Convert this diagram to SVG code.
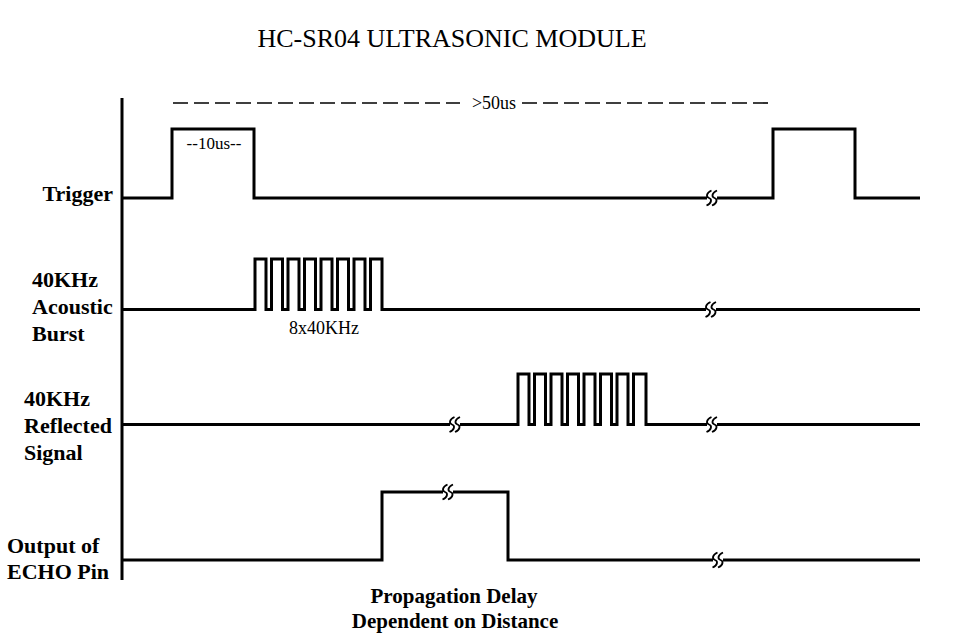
<svg xmlns="http://www.w3.org/2000/svg" width="962" height="642" viewBox="0 0 962 642">
<style>
.sig{fill:none;stroke:#000;stroke-width:3;stroke-linejoin:miter;stroke-linecap:butt}
.brk{fill:none;stroke:#000;stroke-width:1.8}
.dash{fill:none;stroke:#000;stroke-width:1.6;stroke-dasharray:15 6}
.lbl{font-family:"Liberation Serif","Times New Roman",serif;font-weight:bold;font-size:22px;fill:#000}
.note{font-family:"Liberation Serif","Times New Roman",serif;font-size:18px;fill:#000}
.title{font-family:"Liberation Serif","Times New Roman",serif;font-size:26px;fill:#000}
</style>
<defs>
<path id="sq" d="M2.5,-7.5 C-3,-5 -3,-1 0,0 C3,1 3,5 -2.5,7.5"/>
</defs>
<rect width="962" height="642" fill="#fff"/>
<text class="title" x="452" y="47" text-anchor="middle">HC-SR04 ULTRASONIC MODULE</text>

<g id="axis">
<line class="sig" x1="122" y1="98" x2="122" y2="580"/>
</g>

<g id="trigger">
<text class="lbl" x="113" y="201" text-anchor="end">Trigger</text>
<text class="note" x="214" y="149" text-anchor="middle" style="font-size:17px">--10us--</text>
</g>
<g id="acoustic">
<text class="lbl" x="32" y="287">40KHz</text>
<text class="lbl" x="32" y="314">Acoustic</text>
<text class="lbl" x="32" y="341">Burst</text>
<text class="note" x="324" y="334" text-anchor="middle">8x40KHz</text>
</g>
<g id="reflected">
<text class="lbl" x="24" y="406">40KHz</text>
<text class="lbl" x="24" y="433">Reflected</text>
<text class="lbl" x="24" y="460">Signal</text>
</g>
<g id="echo">
<text class="lbl" x="7" y="553">Output of</text>
<text class="lbl" x="7" y="579">ECHO Pin</text>
</g>
<g id="delay">
<text class="lbl" x="454" y="603" text-anchor="middle" style="font-size:21px">Propagation Delay</text>
<text class="lbl" x="455" y="628" text-anchor="middle" style="font-size:21px">Dependent on Distance</text>
</g>

<g id="connectors">
<line class="dash" x1="173" y1="103" x2="460" y2="103"/>
<text class="note" x="494" y="109" text-anchor="middle">&gt;50us</text>
<line class="dash" x1="522" y1="103" x2="770" y2="103"/>

<path class="sig" d="M122,198 H172 V129 H254 V198 H707 M717,198 H773 V129 H855 V198 H920"/>
<path class="sig" d="M122,309.5 H255 V259 H266 V309.5 H271.5 V259 H282.5 V309.5 H288 V259 H299 V309.5 H304.5 V259 H315.5 V309.5 H321 V259 H332 V309.5 H337.5 V259 H348.5 V309.5 H354 V259 H365 V309.5 H370.5 V259 H382 V309.5 H706 M716,309.5 H920"/>
<path class="sig" d="M122,424.5 H450 M460,424.5 H518 V374 H529 V424.5 H534.5 V374 H545.5 V424.5 H551 V374 H562 V424.5 H567.5 V374 H578.5 V424.5 H584 V374 H595 V424.5 H600.5 V374 H611.5 V424.5 H617 V374 H628 V424.5 H633.5 V374 H646 V424.5 H707 M717,424.5 H920"/>
<path class="sig" d="M122,560 H382 V492 H443 M453,492 H508 V560 H713 M723,560 H920"/>

<use href="#sq" class="brk" x="709" y="198"/><use href="#sq" class="brk" x="714.5" y="198"/>
<use href="#sq" class="brk" x="708" y="309.5"/><use href="#sq" class="brk" x="713.5" y="309.5"/>
<use href="#sq" class="brk" x="452" y="424.5"/><use href="#sq" class="brk" x="457.5" y="424.5"/>
<use href="#sq" class="brk" x="709" y="424.5"/><use href="#sq" class="brk" x="714.5" y="424.5"/>
<use href="#sq" class="brk" x="445" y="492"/><use href="#sq" class="brk" x="450.5" y="492"/>
<use href="#sq" class="brk" x="715" y="560"/><use href="#sq" class="brk" x="720.5" y="560"/>
</g>
</svg>
